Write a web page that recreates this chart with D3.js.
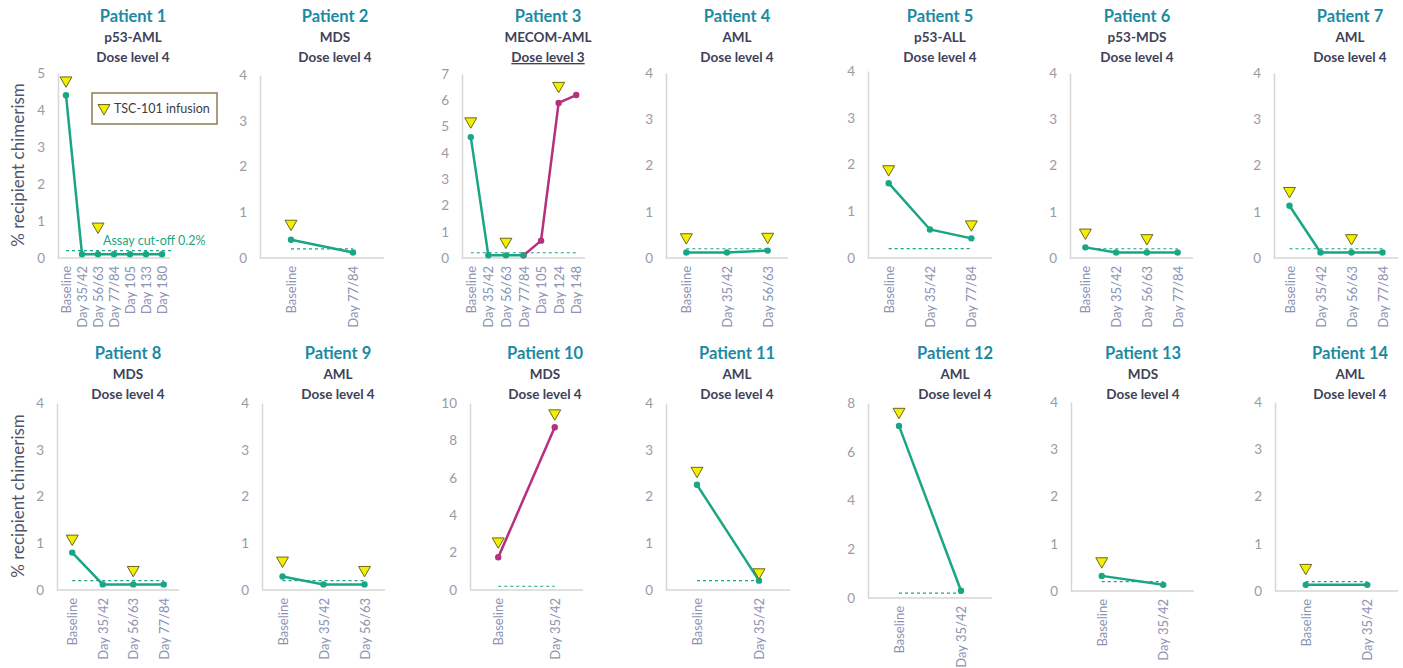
<!DOCTYPE html>
<html lang="en">

<head>
    <meta charset="utf-8">
    <title>Recipient chimerism per patient</title>
    <style media="screen" type="text/css">
        body {
            margin: 0;
            background: #ffffff;
            font-family: Lato, "Open Sans", sans-serif;
        }
    </style>
</head>

<body>
    <svg id="chart"></svg>
    <script src="https://cdn.jsdelivr.net/npm/d3@7"></script>
    <script>
        // ---- data ----
        var patients = ["Patient 1", "Patient 2", "Patient 3", "Patient 4", "Patient 5", "Patient 6", "Patient 7",
            "Patient 8", "Patient 9", "Patient 10", "Patient 11", "Patient 12", "Patient 13", "Patient 14"];
        var diagnoses = ["p53-AML", "MDS", "MECOM-AML", "AML", "p53-ALL", "p53-MDS", "AML",
            "MDS", "AML", "MDS", "AML", "AML", "MDS", "AML"];
        var doseLevels = ["Dose level 4", "Dose level 4", "Dose level 3", "Dose level 4", "Dose level 4", "Dose level 4", "Dose level 4",
            "Dose level 4", "Dose level 4", "Dose level 4", "Dose level 4", "Dose level 4", "Dose level 4", "Dose level 4"];

        var timepoints = [
            ["Baseline", "Day 35/42", "Day 56/63", "Day 77/84", "Day 105", "Day 133", "Day 180"],
            ["Baseline", "Day 77/84"],
            ["Baseline", "Day 35/42", "Day 56/63", "Day 77/84", "Day 105", "Day 124", "Day 148"],
            ["Baseline", "Day 35/42", "Day 56/63"],
            ["Baseline", "Day 35/42", "Day 77/84"],
            ["Baseline", "Day 35/42", "Day 56/63", "Day 77/84"],
            ["Baseline", "Day 35/42", "Day 56/63", "Day 77/84"],
            ["Baseline", "Day 35/42", "Day 56/63", "Day 77/84"],
            ["Baseline", "Day 35/42", "Day 56/63"],
            ["Baseline", "Day 35/42"],
            ["Baseline", "Day 35/42"],
            ["Baseline", "Day 35/42"],
            ["Baseline", "Day 35/42"],
            ["Baseline", "Day 35/42"]
        ];

        // green series (response), null = no point
        var greenValues = [
            [4.4, 0.1, 0.1, 0.1, 0.1, 0.1, 0.1],
            [0.4, 0.12],
            [4.6, 0.1, 0.1, 0.1, null, null, null],
            [0.12, 0.12, 0.16],
            [1.6, 0.61, 0.42],
            [0.23, 0.12, 0.12, 0.12],
            [1.13, 0.12, 0.12, 0.12],
            [0.8, 0.12, 0.12, 0.12],
            [0.29, 0.12, 0.12],
            [null, null],
            [2.25, 0.2],
            [7.06, 0.3],
            [0.32, 0.13],
            [0.13, 0.13]
        ];

        // magenta series (relapse)
        var magentaValues = [
            [], [],
            [null, null, null, 0.1, 0.66, 5.9, 6.2],
            [], [], [], [], [], [],
            [1.75, 8.7],
            [], [], [], []
        ];

        // TSC-101 infusion markers
        var infusionValues = [
            [4.8, null, 0.85, null, null, null, null],
            [0.75, null],
            [5.2, null, 0.62, null, null, 6.55, null],
            [0.45, null, 0.46],
            [1.9, null, 0.72],
            [0.55, null, 0.43, null],
            [1.45, null, 0.43, null],
            [1.1, null, 0.43, null],
            [0.63, null, 0.43],
            [2.6, 9.45],
            [2.55, 0.38],
            [7.64, null],
            [0.63, null],
            [0.49, null]
        ];

        var yMax = [5, 4, 7, 4, 4, 4, 4, 4, 4, 10, 4, 8, 4, 4];
        var yStep = [1, 1, 1, 1, 1, 1, 1, 1, 1, 2, 1, 2, 1, 1];
        var cutoff = 0.2;

        // ---- layout ----
        var w = 1403;
        var h = 668;
        var axisLeft = [58, 260, 462, 666, 868, 1070, 1274, 57, 262, 470, 666, 868, 1071, 1275];
        var plotWidth = [112, 124, 123, 122, 124, 123, 124, 122, 123, 113, 124, 124, 123, 123];
        var plotTop = [73, 75, 74, 73, 71, 73, 73, 403, 403, 403, 403, 403, 402, 402];
        var plotBottom = [258, 258, 258, 258, 258, 258, 258, 590, 590, 590, 590, 598, 591, 591];
        var titleX = [133, 335, 548, 737, 940, 1137, 1350, 128, 338, 545, 737, 955, 1143, 1350];

        var green = "#1aa584";
        var magenta = "#b5307d";
        var triFill = "#f0f000";
        var triStroke = "#6f6420";

        var svg = d3.select("#chart")
            .attr("width", w)
            .attr("height", h);

        var triangle = d3.symbol().type(d3.symbolTriangle).size(62);

        patients.forEach(function(name, i) {
            var cats = timepoints[i];
            var x = d3.scalePoint()
                .domain(cats)
                .range([axisLeft[i], axisLeft[i] + plotWidth[i]])
                .padding(0.5);
            var y = d3.scaleLinear()
                .domain([0, yMax[i]])
                .range([plotBottom[i], plotTop[i]]);

            var g = svg.append("g");
            var row = i < 7 ? 0 : 1;
            var titleY = row === 0 ? 22 : 359;

            // titles
            g.append("text")
                .attr("x", titleX[i])
                .attr("y", titleY)
                .attr("text-anchor", "middle")
                .attr("font-size", "16.5px")
                .attr("font-weight", "bold")
                .attr("fill", "#1c8aa2")
                .text(name);
            g.append("text")
                .attr("x", titleX[i])
                .attr("y", titleY + 20)
                .attr("text-anchor", "middle")
                .attr("font-size", "13.5px")
                .attr("font-weight", "bold")
                .attr("fill", "#3e4259")
                .text(diagnoses[i]);
            var dose = g.append("text")
                .attr("x", titleX[i])
                .attr("y", titleY + 40)
                .attr("text-anchor", "middle")
                .attr("font-size", "13.5px")
                .attr("font-weight", "bold")
                .attr("fill", "#3e4259")
                .text(doseLevels[i]);
            if (doseLevels[i] === "Dose level 3") {
                dose.attr("text-decoration", "underline");
            }

            // y axis
            var yAxis = d3.axisLeft(y)
                .tickValues(d3.range(0, yMax[i] + 0.001, yStep[i]))
                .tickFormat(d3.format("d"))
                .tickSize(0)
                .tickPadding(13);
            var ya = g.append("g")
                .attr("transform", "translate(" + axisLeft[i] + ",0)")
                .call(yAxis);
            ya.select(".domain").attr("stroke", "#d6d6d6").attr("stroke-width", 1.5);
            ya.selectAll("text")
                .attr("font-family", "Lato, sans-serif")
                .attr("font-size", "13.5px")
                .attr("fill", "#9a9aa6");

            // x axis
            var xAxis = d3.axisBottom(x).tickSize(0).tickPadding(0);
            var xa = g.append("g")
                .attr("transform", "translate(0," + plotBottom[i] + ")")
                .call(xAxis);
            xa.select(".domain")
                .attr("d", "M" + axisLeft[i] + ",0H" + (axisLeft[i] + plotWidth[i]))
                .attr("stroke", "#d6d6d6").attr("stroke-width", 1.5);
            xa.selectAll("text")
                .attr("font-family", "Lato, sans-serif")
                .attr("font-size", "13px")
                .attr("fill", "#8c93b3")
                .attr("text-anchor", "end")
                .attr("dy", "0.35em")
                .attr("transform", "translate(0,8) rotate(-90)");

            // assay cut-off
            g.append("line")
                .attr("x1", x(cats[0]))
                .attr("x2", x(cats[cats.length - 1]) + (i === 0 ? 12 : 0))
                .attr("y1", y(cutoff))
                .attr("y2", y(cutoff))
                .attr("stroke", green)
                .attr("stroke-width", 1.2)
                .attr("stroke-dasharray", "3,3");

            // series
            [[magentaValues[i], magenta], [greenValues[i], green]].forEach(function(s) {
                var pts = [];
                s[0].forEach(function(v, k) {
                    if (v !== null) pts.push({ c: cats[k], v: v });
                });
                if (!pts.length) return;
                var line = d3.line()
                    .x(function(d) { return x(d.c); })
                    .y(function(d) { return y(d.v); });
                g.append("path")
                    .datum(pts)
                    .attr("d", line)
                    .attr("fill", "none")
                    .attr("stroke", s[1])
                    .attr("stroke-width", 2.5);
                g.selectAll(null)
                    .data(pts)
                    .enter()
                    .append("circle")
                    .attr("cx", function(d) { return x(d.c); })
                    .attr("cy", function(d) { return y(d.v); })
                    .attr("r", 3.2)
                    .attr("fill", s[1]);
            });

            // infusion triangles
            var inf = [];
            infusionValues[i].forEach(function(v, k) {
                if (v !== null) inf.push({ c: cats[k], v: v });
            });
            g.selectAll(null)
                .data(inf)
                .enter()
                .append("path")
                .attr("d", triangle)
                .attr("transform", function(d) {
                    return "translate(" + x(d.c) + "," + y(d.v) + ") rotate(180)";
                })
                .attr("fill", triFill)
                .attr("stroke", triStroke)
                .attr("stroke-width", 1);

            if (i === 0) {
                g.append("text")
                    .attr("x", 103)
                    .attr("y", 245)
                    .attr("font-size", "12.5px")
                    .attr("fill", green)
                    .text("Assay cut-off 0.2%");
            }
        });

        // y-axis titles
        [165, 496].forEach(function(cy) {
            svg.append("text")
                .attr("transform", "translate(24," + cy + ") rotate(-90)")
                .attr("text-anchor", "middle")
                .attr("font-size", "17px")
                .attr("fill", "#50546a")
                .text("% recipient chimerism");
        });

        // legend
        var legend = svg.append("g").attr("transform", "translate(92,93)");
        legend.append("rect")
            .attr("width", 125)
            .attr("height", 31)
            .attr("fill", "#ffffff")
            .attr("stroke", "#8f7d55")
            .attr("stroke-width", 1.5);
        legend.append("path")
            .attr("d", triangle)
            .attr("transform", "translate(12,15) rotate(180)")
            .attr("fill", triFill)
            .attr("stroke", triStroke);
        legend.append("text")
            .attr("x", 22)
            .attr("y", 20)
            .attr("font-size", "12.5px")
            .attr("fill", "#3c3c44")
            .text("TSC-101 infusion");
    </script>
</body>

</html>
